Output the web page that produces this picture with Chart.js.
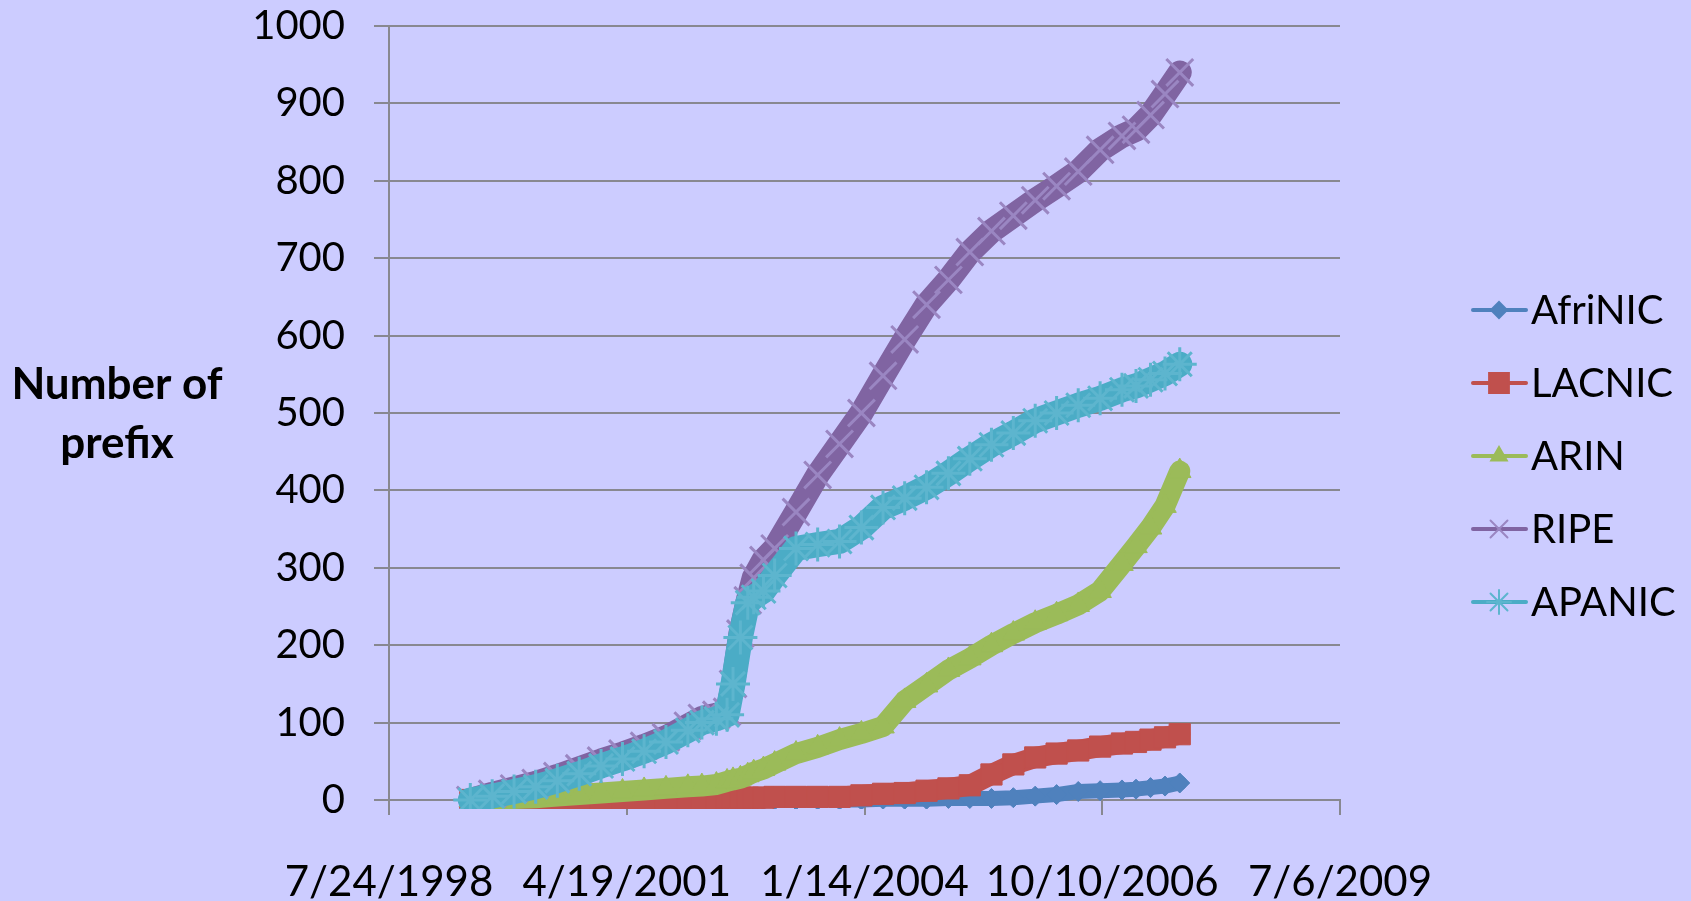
<!DOCTYPE html>
<html>
<head>
<meta charset="utf-8">
<script src="https://cdn.jsdelivr.net/npm/chart.js@4.4.1/dist/chart.umd.min.js"></script>
<style>
  html, body { margin: 0; padding: 0; background: #CCCCFF; }
  #wrap { width: 1691px; height: 901px; position: relative; }
</style>
</head>
<body>
<div id="wrap"><canvas id="c"></canvas></div>
<script>
// ---- data ----
const dates = [
  '1999-07-01','1999-10-01','2000-01-01','2000-04-01','2000-07-01','2000-10-01',
  '2001-01-01','2001-04-01','2001-07-01','2001-10-01','2002-01-01','2002-03-01',
  '2002-05-01','2002-06-15','2002-07-10','2002-08-10','2002-09-10','2002-10-05',
  '2002-11-15','2003-01-01','2003-04-01','2003-07-01','2003-10-01','2004-01-01',
  '2004-04-01','2004-07-01','2004-10-01','2005-01-01','2005-04-01','2005-07-01',
  '2005-10-01','2006-01-01','2006-04-01','2006-07-01','2006-10-01','2007-01-01',
  '2007-03-01','2007-05-01','2007-07-01','2007-09-01'
];
const afrinic = [0,0,0,0,0,0,0,0,0,0,0,0,0,0,0,0,0,0,0,0,0,0,0,
                 0,1,1,1,2,2,2,3,5,7,11,12,13,14,16,18,22];
const lacnic  = [0,0,0,0,0,0,0,0,1,1,2,2,2,3,3,3,3,3,3,4,
                 4,4,4,6,8,9,12,15,19,33,46,55,60,64,69,73,75,78,81,85];
const arin    = [0,1,2,3,5,7,9,11,13,15,17,18,20,24,26,28,32,36,40,47,
                 60,68,78,86,95,128,148,168,183,200,215,229,240,252,270,305,328,352,380,425];
const ripe    = [0,8,15,22,31,41,51,60,70,81,96,106,110,114,150,215,258,287,310,325,
                 372,420,460,500,548,595,640,672,708,735,755,775,793,812,840,858,866,885,912,940];
const apanic  = [0,5,11,17,25,34,44,53,63,75,90,100,105,110,150,210,255,262,270,290,
                 325,330,334,352,378,390,404,422,441,459,474,490,500,510,519,530,535,543,551,563];

const seriesNames = ['AfriNIC','LACNIC','ARIN','RIPE','APANIC'];
const xTickSerials = [36000, 37000, 38000, 39000, 40000];   // 7/24/1998 ... 7/6/2009
const yTitleLines = ['Number of', 'prefix'];

// ---- helpers ----
const EXCEL_EPOCH = Date.UTC(1899, 11, 30);
function toSerial(s) {
  const [y, m, d] = s.split('-').map(Number);
  return Math.round((Date.UTC(y, m - 1, d) - EXCEL_EPOCH) / 86400000);
}
function fmtSerial(v) {
  const dt = new Date(EXCEL_EPOCH + v * 86400000);
  return (dt.getUTCMonth() + 1) + '/' + dt.getUTCDate() + '/' + dt.getUTCFullYear();
}
const xs = dates.map(toSerial);
const pts = arr => arr.map((v, i) => ({ x: xs[i], y: v }));

const styles = [
  { color: '#4F81BD', mark: '#4F81BD', ps: 'rectRot', r: 10, bw: 15, pbw: 1 },
  { color: '#C0504D', mark: '#C0504D', ps: 'rect',    r: 15, bw: 21, pbw: 1 },
  { color: '#9BBB59', mark: '#9BBB59', ps: 'triangle',r: 13, bw: 21, pbw: 1 },
  { color: '#8064A2', mark: '#9A86C2', ps: 'crossRot',r: 19, bw: 24, pbw: 3 },
  { color: '#4BACC6', mark: '#5DB5CE', ps: 'star',    r: 17, bw: 25, pbw: 3 }
];
const values = [afrinic, lacnic, arin, ripe, apanic];

const datasets = values.map((arr, i) => ({
  label: seriesNames[i],
  data: pts(arr),
  borderColor: styles[i].color,
  backgroundColor: styles[i].color,
  borderWidth: styles[i].bw,
  borderJoinStyle: 'round',
  borderCapStyle: 'round',
  pointStyle: styles[i].ps,
  pointRadius: styles[i].r,
  pointBorderWidth: styles[i].pbw,
  pointBorderColor: styles[i].mark,
  pointBackgroundColor: styles[i].mark,
  tension: 0,
  order: 5 - i,
  clip: { left: 100, top: 100, right: 100, bottom: 9 }
}));

function drawMarker(ctx, style, x, y, r, bw) {
  if (Chart.helpers && Chart.helpers.drawPoint) {
    Chart.helpers.drawPoint(ctx, { pointStyle: style, radius: r, rotation: 0, borderWidth: bw }, x, y);
  }
}

const decor = {
  id: 'decor',
  afterDraw(chart) {
    const ctx = chart.ctx;
    ctx.save();
    // y-axis title (horizontal, two lines)
    ctx.fillStyle = '#000';
    ctx.font = 'bold 44px Lato';
    ctx.textAlign = 'center';
    ctx.textBaseline = 'alphabetic';
    ctx.fillText(yTitleLines[0], 117, 399);
    ctx.fillText(yTitleLines[1], 117, 458);
    // legend
    chart.data.datasets.forEach((ds, i) => {
      const y = 310 + i * 73;
      ctx.strokeStyle = ds.borderColor;
      ctx.lineWidth = 4;
      ctx.lineCap = 'round';
      ctx.beginPath();
      ctx.moveTo(1473, y);
      ctx.lineTo(1526, y);
      ctx.stroke();
      ctx.fillStyle = ds.pointBackgroundColor;
      ctx.strokeStyle = ds.pointBorderColor;
      ctx.lineWidth = 2;
      const lr = { rectRot: 8, rect: 14, triangle: 9, crossRot: 12, star: 12 }[ds.pointStyle];
      drawMarker(ctx, ds.pointStyle, 1499, y, lr, 2);
      ctx.fillStyle = '#000';
      ctx.font = '40px Lato';
      ctx.textAlign = 'left';
      ctx.textBaseline = 'middle';
      ctx.fillText(ds.label, 1531, y + 1);
    });
    ctx.restore();
  }
};

const gridColor = '#888890';

new Chart(document.getElementById('c'), {
  type: 'line',
  data: { datasets },
  plugins: [decor],
  options: {
    responsive: true,
    maintainAspectRatio: false,
    animation: false,
    layout: { padding: { top: 26, right: 351, left: 0, bottom: 0 } },
    plugins: { legend: { display: false }, tooltip: { enabled: false } },
    scales: {
      x: {
        type: 'linear',
        min: 36000, max: 40000,
        afterBuildTicks: s => { s.ticks = xTickSerials.map(v => ({ value: v })); },
        afterFit: s => { s.height = 101; },
        grid: { drawOnChartArea: false, drawTicks: true, tickLength: 15, color: gridColor, lineWidth: 2 },
        border: { display: true, color: gridColor, width: 2 },
        ticks: {
          callback: v => fmtSerial(v),
          color: '#000', font: { family: 'Lato', size: 42 }, padding: 42,
          maxRotation: 0, autoSkip: false
        }
      },
      y: {
        min: 0, max: 1000,
        afterFit: s => { s.width = 389; s.paddingTop = 0; s.paddingBottom = 0; },
        grid: { drawTicks: true, tickLength: 15, color: gridColor, lineWidth: 2 },
        border: { display: true, color: gridColor, width: 2 },
        ticks: { stepSize: 100, callback: v => String(v), color: '#000', font: { family: 'Lato', size: 40 }, padding: 29 }
      }
    }
  }
});
</script>
</body>
</html>
